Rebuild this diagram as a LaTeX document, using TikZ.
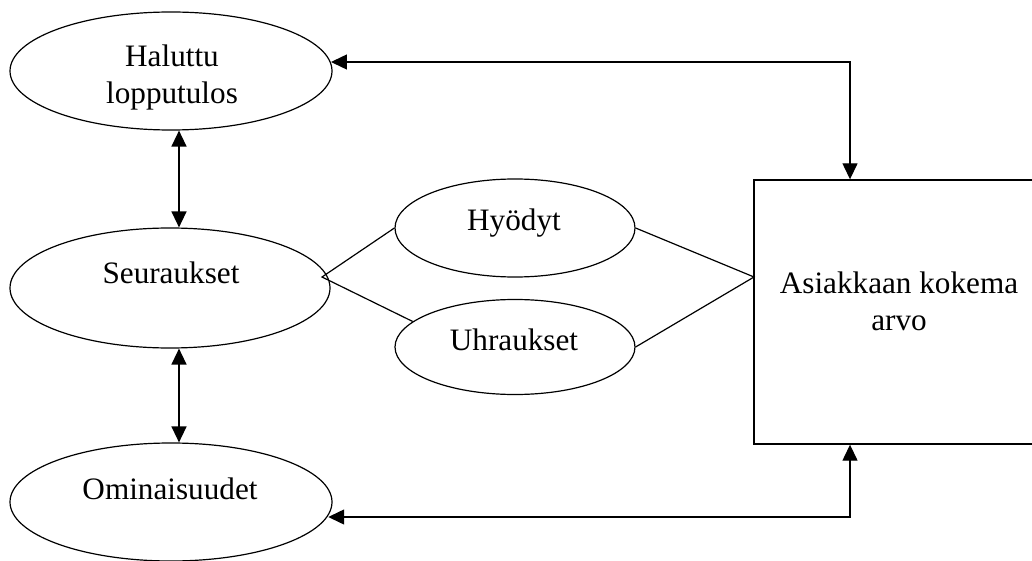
\documentclass[tikz,border=0pt]{standalone}
\usepackage{fontspec}
\setmainfont{Liberation Serif}
\usetikzlibrary{arrows.meta,shapes.geometric}
\begin{document}
\begin{tikzpicture}[x=0.5pt,y=-0.5pt,
  oval/.style={draw, ellipse, line width=0.6pt, inner sep=0pt},
  valuebox/.style={draw, rectangle, line width=0.7pt, inner sep=0pt},
  txt/.style={font=\fontsize{15.6pt}{18.5pt}\selectfont, inner sep=0pt, align=center},
  link/.style={line width=0.6pt},
  both/.style={line width=0.7pt,
    {Triangle[length=8pt,width=7.5pt]}-{Triangle[length=8pt,width=7.5pt]}}]
\useasboundingbox (0,0) rectangle (1032,561);
\clip (0,0) rectangle (1032,561);

% means-end chain on the left
\node[oval, minimum width=161pt, minimum height=59pt] (hal) at (171,71) {};
\node[oval, minimum width=160pt, minimum height=60pt] (seur) at (170,288) {};
\node[oval, minimum width=161pt, minimum height=59pt] (omin) at (171,502) {};

% benefits and sacrifices
\node[oval, minimum width=120pt, minimum height=49pt] (hyo) at (515,228) {};
\node[oval, minimum width=120pt, minimum height=47.5pt] (uhr) at (515,347) {};

% perceived value (its right side runs past the edge)
\node[valuebox, minimum width=170pt, minimum height=132pt] (box) at (924,312) {};

% labels
\node[txt] (halT) at (172,77.5) {Haluttu\\lopputulos};
\node[txt, anchor=base] (seurT) at (171,283) {Seuraukset};
\node[txt, anchor=base] (ominT) at (170,499) {Ominaisuudet};
\node[txt, anchor=base] (hyoT) at (514,230) {Hyödyt};
\node[txt, anchor=base] (uhrT) at (514,350) {Uhraukset};
\node[txt] (boxT) at (899,301) {Asiakkaan kokema\\arvo};

% helper points
\coordinate (vx) at (179,0);
\coordinate (tr) at (850,62);
\coordinate (br) at (850,517);
\coordinate (junc) at (322,277);
\coordinate (meet) at (754,277);

% vertical two-way links
\draw[both] (hal.south -| vx) -- (seur.north -| vx);
\draw[both] (seur.south -| vx) -- (omin.north -| vx);

% feedback loops with the value box
\draw[both] (tr -| hal.3) -- (tr) -- (tr |- box.north);
\draw[both] (br -| omin.-5) -- (br) -- (br |- box.south);

% consequences split into benefits and sacrifices
\draw[link, line join=miter] (hyo.west) -- (junc) -- (uhr.166);
\draw[link] (hyo.east) -- (meet) -- (uhr.east);
\end{tikzpicture}
\end{document}
